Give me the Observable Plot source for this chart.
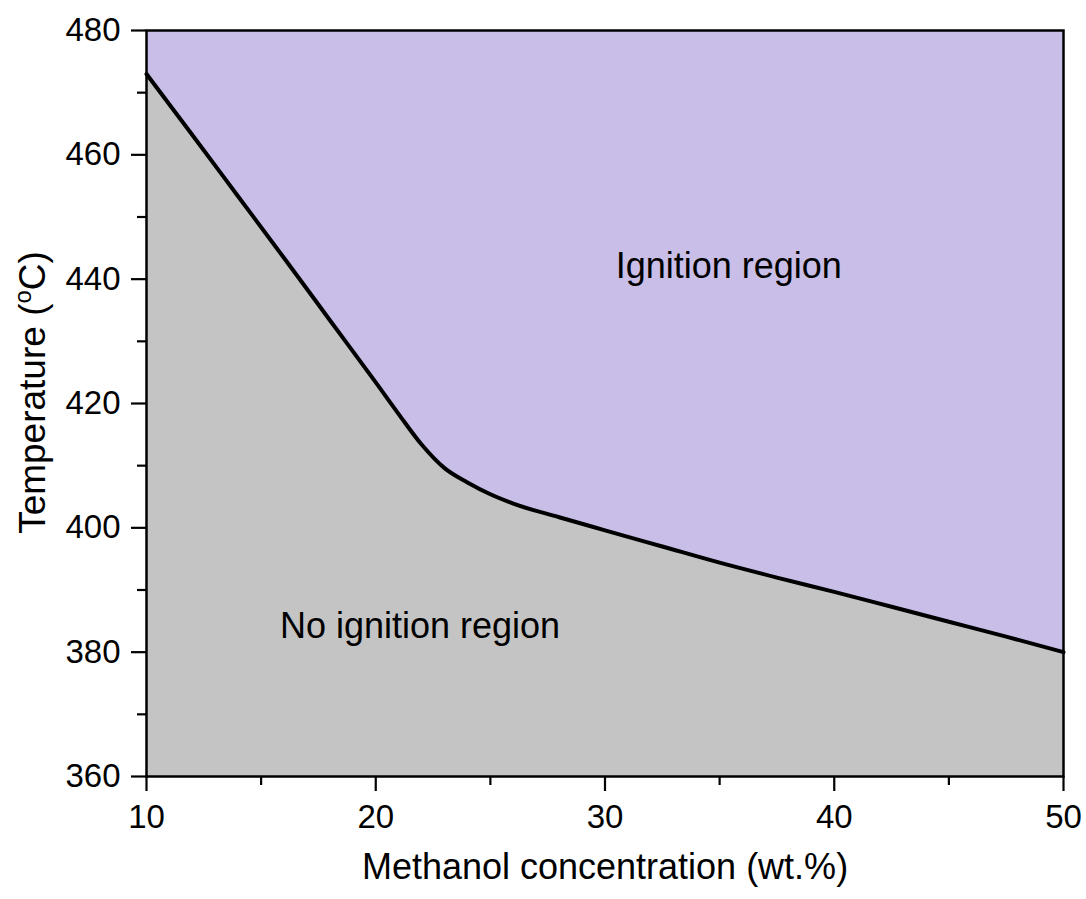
<!DOCTYPE html>
<html>
<head>
<meta charset="utf-8">
<script src="https://cdn.jsdelivr.net/npm/d3@7"></script>
<script src="https://cdn.jsdelivr.net/npm/@observablehq/plot@0.6"></script>
<style>
  html, body { margin: 0; padding: 0; background: #fff; }
  #chart svg { display: block; }
</style>
</head>
<body>
<div id="chart"></div>
<script>
// Boundary between ignition and no-ignition regions
const concentration = [10, 12, 14, 16, 18, 20, 21, 22, 23, 24, 25, 26, 28, 30, 32.5, 35, 37.5, 40, 42.5, 45, 47.5, 50];
const temperature = [473, 463.2, 453.3, 443.4, 433.4, 423.4, 418.3, 413.4, 409.6, 407.3, 405.4, 403.9, 401.7, 399.6, 397.0, 394.4, 392.0, 389.7, 387.3, 384.9, 382.5, 380.0];

const xMajorTicks = [10, 20, 30, 40, 50];
const xMinorTicks = [15, 25, 35, 45];
const yMajorTicks = [360, 380, 400, 420, 440, 460, 480];
const yMinorTicks = [370, 390, 410, 430, 450, 470];

const regionNames = ["Ignition region", "No ignition region"];
const regionX = [35.4, 21.93];
const regionY = [442.1, 384.2];

const xTitle = "Methanol concentration (wt.%)";
const yTitle = "Temperature (°C)";

const data = concentration.map((c, i) => ({c, t: temperature[i]}));
const regions = regionNames.map((name, i) => ({name, x: regionX[i], y: regionY[i]}));

const purple = "#c8bee8";
const gray = "#c4c4c4";

const chart = Plot.plot({
  width: 1086,
  height: 899,
  marginLeft: 146,
  marginRight: 23,
  marginTop: 30,
  marginBottom: 123,
  style: {fontFamily: "'Liberation Sans', Arial, sans-serif", fontSize: "33px", color: "#000", background: "#fff"},
  x: {domain: [10, 50]},
  y: {domain: [360, 480]},
  marks: [
    Plot.areaY(data, {x: "c", y1: "t", y2: () => 480, fill: purple, curve: "monotone-x"}),
    Plot.areaY(data, {x: "c", y1: () => 360, y2: "t", fill: gray, curve: "monotone-x"}),
    Plot.line(data, {x: "c", y: "t", stroke: "#000", strokeWidth: 4, curve: "monotone-x"}),
    Plot.text(regions, {x: "x", y: "y", text: "name", fontSize: 36, fill: "#000", textAnchor: "middle", lineAnchor: "middle"}),
    Plot.frame({stroke: "#000", strokeWidth: 2.5}),
    Plot.axisX({ticks: xMajorTicks, tickSize: 15, tickPadding: 13, strokeWidth: 2.2, label: null, fontSize: 33}),
    Plot.axisX({ticks: xMinorTicks, tickSize: 9, tickFormat: () => "", strokeWidth: 2.2, label: null}),
    Plot.axisY({ticks: yMajorTicks, tickSize: 15, tickPadding: 11, strokeWidth: 2.2, label: null, fontSize: 33}),
    Plot.axisY({ticks: yMinorTicks, tickSize: 9, tickFormat: () => "", strokeWidth: 2.2, label: null}),
    Plot.text([xTitle], {frameAnchor: "bottom", text: d => d, dy: 90.5, fontSize: 36, fill: "#000", textAnchor: "middle", lineAnchor: "middle"}),
    Plot.text([yTitle], {frameAnchor: "left", text: d => d, dx: -113, dy: -11, rotate: -90, fontSize: 37, fill: "#000", textAnchor: "middle", lineAnchor: "middle"})
  ]
});

// superscript "o" in the y title
chart.querySelectorAll("text").forEach(el => {
  if (el.textContent === yTitle) {
    el.textContent = "";
    const ns = "http://www.w3.org/2000/svg";
    const a = document.createElementNS(ns, "tspan");
    a.textContent = "Temperature (";
    const o = document.createElementNS(ns, "tspan");
    o.textContent = "o";
    o.setAttribute("font-size", "24");
    o.setAttribute("dy", "-14");
    const b = document.createElementNS(ns, "tspan");
    b.textContent = "C)";
    b.setAttribute("dy", "14");
    el.append(a, o, b);
  }
});

document.getElementById("chart").appendChild(chart);
</script>
</body>
</html>
